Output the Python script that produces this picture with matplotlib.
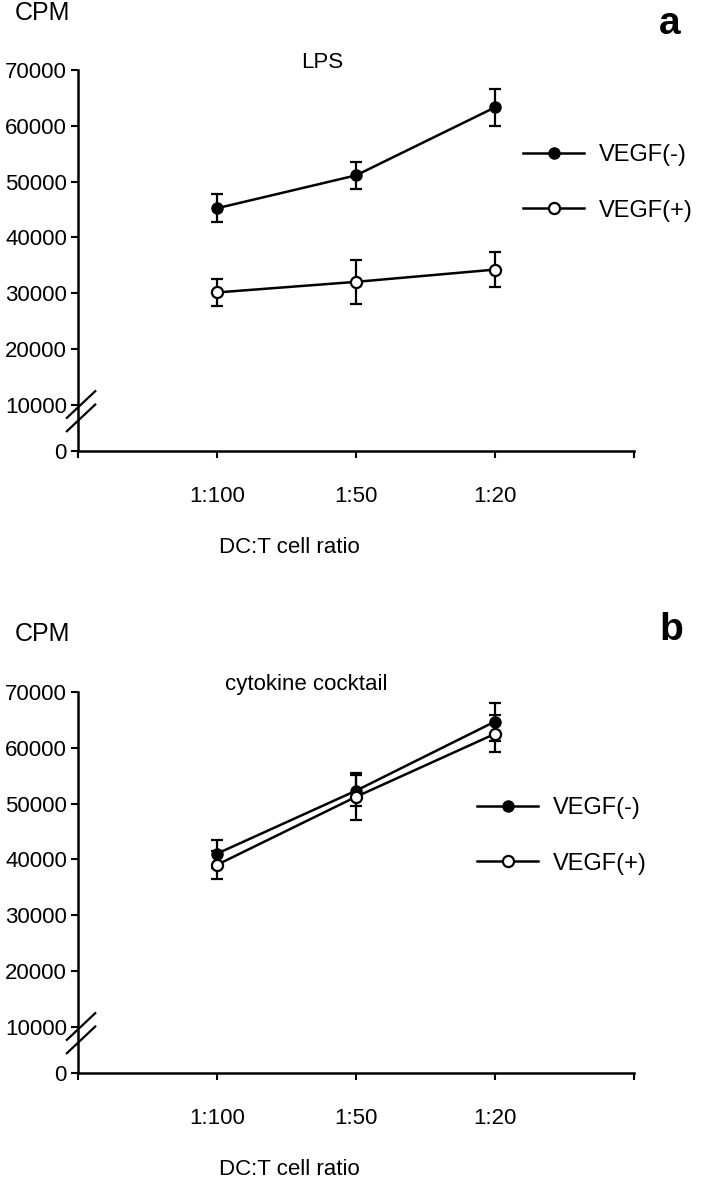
"""
DC:T cell ratio proliferation, LPS vs cytokine cocktail
"""
import numpy as np
import matplotlib.pyplot as plt
from matplotlib.lines import Line2D

plt.rcParams['font.family'] = ['Liberation Sans', 'DejaVu Sans']

ratios = ['1:100', '1:50', '1:20']
yticks = [10000, 20000, 30000, 40000, 50000, 60000, 70000]
zero_pos = 1660  # where "0" sits below the axis break

# panel a: LPS
lps_neg = [45200, 51100, 63300]
lps_neg_err = [2500, 2400, 3300]
lps_pos = [30100, 32000, 34200]
lps_pos_err = [2500, 4000, 3100]

# panel b: cytokine cocktail
cyt_neg = [41000, 52300, 64700]
cyt_neg_err = [2500, 2800, 3400]
cyt_pos = [39000, 51200, 62500]
cyt_pos_err = [2500, 4200, 3300]

fs = 15
fig = plt.figure(figsize=(7.05, 11.78), dpi=100)


def panel(rect, title, title_x, neg, neg_err, pos, pos_err, letter, leg_xy,
          cpm_y, letter_y):
    ax = fig.add_axes(rect)
    x = np.arange(1, len(ratios) + 1)
    ax.errorbar(x, neg, yerr=neg_err, color='black', lw=1.8, marker='o',
                ms=8, mfc='black', mec='black', capsize=4, elinewidth=1.6,
                capthick=1.6, zorder=3)
    ax.errorbar(x, pos, yerr=pos_err, color='black', lw=1.8, marker='o',
                ms=8, mfc='white', mec='black', mew=1.6, capsize=4,
                elinewidth=1.6, capthick=1.6, zorder=3)
    ax.set_xlim(0, 4)
    ax.set_ylim(zero_pos, 70000)
    ax.set_xticks([0, 1, 2, 3, 4])
    ax.set_xticklabels([''] + ratios + [''], fontsize=fs + 1)
    ax.set_yticks([zero_pos] + yticks)
    ax.set_yticklabels(['0'] + [str(v) for v in yticks], fontsize=fs + 1)
    ax.tick_params(direction='out', length=5, width=1.5, pad=3)
    ax.tick_params(axis='x', pad=20)
    for s in ['top', 'right']:
        ax.spines[s].set_visible(False)
    for s in ['left', 'bottom']:
        ax.spines[s].set_linewidth(1.8)
    ax.set_xlabel('DC:T cell ratio', fontsize=fs + 1, labelpad=22, x=0.38)
    ax.text(title_x, 1.02, title, transform=ax.transAxes, fontsize=fs + 1,
            ha='center', va='center')

    # axis break
    for dy in (0.0, 0.035):
        ax.plot([-0.02, 0.031], [0.052 + dy, 0.122 + dy], transform=ax.transAxes,
                color='black', lw=1.6, clip_on=False)

    fig.text(15 / 705, cpm_y, 'CPM', fontsize=fs + 3, va='center', ha='left')
    fig.text(659 / 705, letter_y, letter, fontsize=28, fontweight='bold',
             va='center', ha='left')

    h = [Line2D([], [], color='black', lw=1.8, marker='o', ms=8, mfc='black'),
         Line2D([], [], color='black', lw=1.8, marker='o', ms=8, mfc='white',
                mew=1.6)]
    ax.legend(h, ['VEGF(-)', 'VEGF(+)'], loc='center left',
              bbox_to_anchor=leg_xy, bbox_transform=fig.transFigure,
              frameon=False, fontsize=fs + 2, handlelength=2.6,
              handletextpad=0.6, labelspacing=1.4, borderpad=0,
              borderaxespad=0)
    return ax


panel([78 / 705, 1 - 451 / 1178, 556 / 705, 381 / 1178], 'LPS', 0.44,
      lps_neg, lps_neg_err, lps_pos, lps_pos_err, 'a',
      (523 / 705, 1 - 183 / 1178), 1 - 13 / 1178, 1 - 24 / 1178)
panel([78 / 705, 1 - 1073 / 1178, 556 / 705, 381 / 1178], 'cytokine cocktail',
      0.41, cyt_neg, cyt_neg_err, cyt_pos, cyt_pos_err, 'b',
      (477 / 705, 1 - 836 / 1178), 1 - 634 / 1178, 1 - 630 / 1178)

fig.savefig('out.png', dpi=100)
